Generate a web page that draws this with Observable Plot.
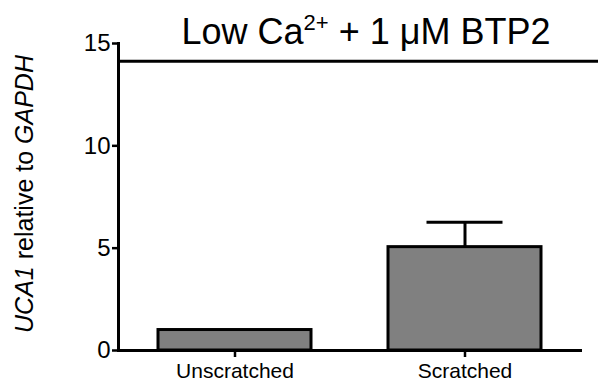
<!DOCTYPE html>
<html>
<head>
<meta charset="utf-8">
<script src="https://cdn.jsdelivr.net/npm/d3@7"></script>
<script src="https://cdn.jsdelivr.net/npm/@observablehq/plot@0.6"></script>
<style>
  html, body { margin: 0; padding: 0; background: #fff; }
  svg { display: block; }
</style>
</head>
<body>
<div id="chart"></div>
<script>
const categories = ["Unscratched", "Scratched"];
const means = [1.0, 5.05];
const errors = [0, 1.22];
const yTicks = [0, 5, 10, 15];
const titleLineValue = 14.13;

const data = categories.map((c, i) => ({cat: c, mean: means[i], err: errors[i]}));
const errData = data.filter(d => d.err > 0);

const font = "'Liberation Sans', Arial, sans-serif";

const chart = Plot.plot({
  width: 598,
  height: 383,
  marginLeft: 118,
  marginRight: 16,
  marginTop: 43,
  marginBottom: 33,
  style: {fontFamily: font, background: "#fff", color: "#000"},
  x: {domain: categories, paddingInner: 0.333, paddingOuter: 0.171, label: null},
  y: {domain: [0, 15], label: null},
  marks: [
    Plot.barY(data, {x: "cat", y: "mean", fill: "#808080", stroke: "#000", strokeWidth: 3}),
    Plot.ruleX(errData, {x: "cat", y1: "mean", y2: d => d.mean + d.err, stroke: "#000", strokeWidth: 3}),
    Plot.tickY(errData, {x: "cat", y: d => d.mean + d.err, stroke: "#000", strokeWidth: 3, insetLeft: 38.5, insetRight: 38.5}),
    Plot.ruleY([0], {stroke: "#000", strokeWidth: 3}),
    Plot.frame({anchor: "left", stroke: "#000", strokeWidth: 3}),
    Plot.ruleY([titleLineValue], {stroke: "#000", strokeWidth: 3, insetRight: -16, clip: false}),
    Plot.axisY({ticks: yTicks, tickSize: 6, tickPadding: 2, fontSize: 24, strokeWidth: 2.5, label: null}),
    Plot.axisX({tickSize: 7, tickPadding: 6, fontSize: 21, strokeWidth: 2.5, label: null})
  ]
});

document.getElementById("chart").appendChild(chart);

const svg = d3.select(chart);

// Title with superscript
const title = svg.append("text")
  .attr("x", 366).attr("y", 44)
  .attr("text-anchor", "middle")
  .attr("font-family", font)
  .attr("font-size", 36)
  .attr("fill", "#000");
title.append("tspan").text("Low Ca");
title.append("tspan").attr("font-size", 22).attr("dy", -14).text("2+");
title.append("tspan").attr("dy", 14).text(" + 1 \u03BCM BTP2");

// Y axis label with italics
const ylab = svg.append("text")
  .attr("transform", "translate(33,194) rotate(-90)")
  .attr("text-anchor", "middle")
  .attr("font-family", font)
  .attr("font-size", 25)
  .attr("fill", "#000");
ylab.append("tspan").attr("font-style", "italic").text("UCA1");
ylab.append("tspan").text(" relative to ");
ylab.append("tspan").attr("font-style", "italic").text("GAPDH");
</script>
</body>
</html>
